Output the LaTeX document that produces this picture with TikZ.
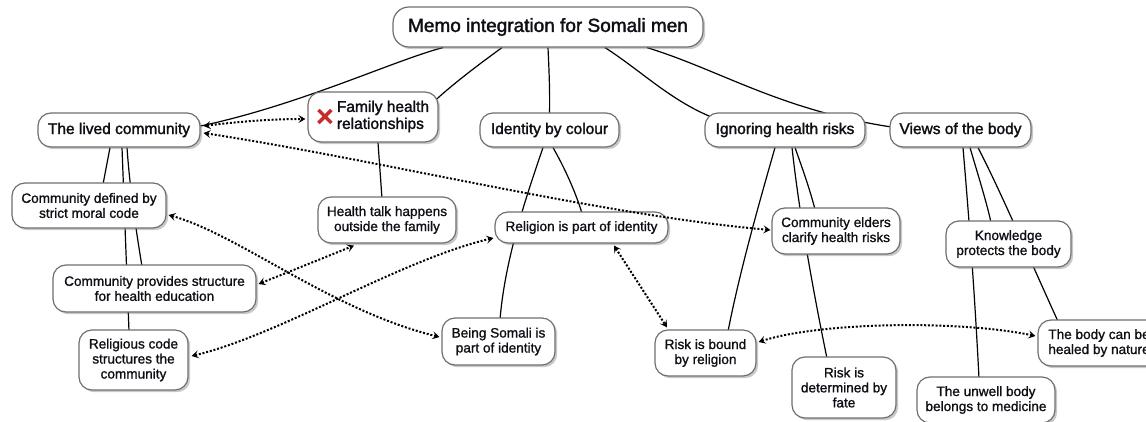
\documentclass[tikz,border=0pt]{standalone}
\usepackage{fontspec}
\setmainfont{Liberation Sans}
\newfontfamily\headfont{Liberation Sans}[FakeBold=1.8]
\newfontfamily\leaffont{Liberation Sans}[FakeBold=1.1]
\usetikzlibrary{arrows.meta,shadows,calc}
\definecolor{boxline}{HTML}{707070}
\definecolor{ink}{HTML}{0E0E14}
\definecolor{xred}{HTML}{C62D2D}
\pgfdeclarelayer{paper}
\pgfdeclarelayer{links}
\pgfsetlayers{paper,links,main}
\tikzset{
  box/.style={draw=boxline, line width=1.2pt, fill=white, rounded corners=13pt,
    text=ink, align=center, inner sep=2pt,
    drop shadow={shadow xshift=2.2pt, shadow yshift=-2.2pt, opacity=0.35, fill=black!60}},
  sized/.style 2 args={minimum width=#1pt, minimum height=#2pt},
  titlebox/.style={box, rounded corners=16pt, font=\headfont\fontsize{19}{22}\selectfont},
  topic/.style={box, font=\headfont\fontsize{15.5}{17}\selectfont},
  leaf/.style={box, font=\leaffont\fontsize{13.6}{15}\selectfont},
  link/.style={line width=1.2pt, draw=black},
  tip/.tip={Stealth[length=7pt,width=8pt,inset=3pt]},
  tie/.style={line width=2pt, dash pattern=on 2pt off 1.8pt, draw=black, tip-tip},
}
\begin{document}
\begin{tikzpicture}[x=1pt,y=-1pt]
\useasboundingbox (0,0) rectangle (1146,422);
\begin{pgfonlayer}{paper}
  \fill[white] (0,0) rectangle (1146,422);
\end{pgfonlayer}

% top level
\node[titlebox, sized={310}{40}] (title) at (548,27) {Memo integration for Somali men};
\node[topic, sized={162}{34}] (lived) at (119,130) {The lived community};
\node[topic, sized={130}{50}] (family) at (373,117)
  {\hspace{20pt}\begin{tabular}{@{}l@{}}Family health\\relationships\end{tabular}};
\node[topic, sized={139}{34}] (identity) at (549.5,130) {Identity by colour};
\node[topic, sized={160}{34}] (ignoring) at (785,130) {Ignoring health risks};
\node[topic, sized={141}{34}] (views) at (960.5,130) {Views of the body};

% red cross on the family node
\draw[xred, line width=3.4pt] ($(family.west)+(11,-7)$) -- ($(family.west)+(24,6)$)
                               ($(family.west)+(11,6)$) -- ($(family.west)+(24,-7)$);

% second level
\node[leaf, sized={154}{45}] (defined) at (89,205.5) {Community defined by\\strict moral code};
\node[leaf, sized={203}{47}] (provides) at (154.5,288.5) {Community provides structure\\for health education};
\node[leaf, sized={109}{60}] (religious) at (133.5,360) {Religious code\\structures the\\community};
\node[leaf, sized={138}{46}] (health) at (387,220) {Health talk happens\\outside the family};
\node[leaf, sized={173}{31}] (religion) at (581.5,227.5) {Religion is part of identity};
\node[leaf, sized={113}{47}] (somali) at (498.5,341.5) {Being Somali is\\part of identity};
\node[leaf, sized={128}{46}] (elders) at (836,231) {Community elders\\clarify health risks};
\node[leaf, sized={101}{46}] (riskbound) at (705.5,353) {Risk is bound\\by religion};
\node[leaf, sized={104}{61}] (fate) at (844,387.5) {Risk is\\determined by\\fate};
\node[leaf, sized={125}{46}] (knowledge) at (1008.5,244) {Knowledge\\protects the body};
\node[leaf, sized={122}{46}] (healed) at (1099,343) {The body can be\\healed by nature};
\node[leaf, sized={138}{46}] (unwell) at (986,400) {The unwell body\\belongs to medicine};

% hierarchy links, kept under the boxes
\begin{pgfonlayer}{links}
  \draw[link] ($(title.south)+(-105,0)$) .. controls (395,60) and (300,105) .. ($(lived.east)+(0,-4)$);
  \draw[link] ($(title.south)+(-46,0)$) .. controls (485,60) and (455,82) .. ($(family.east)+(-4,-16)$);
  \draw[link] (title.south) .. controls (549,70) and (550,90) .. ($(identity.north)+(0,2)$);
  \draw[link] ($(title.south)+(57,0)$) .. controls (640,70) and (670,100) .. ($(ignoring.west)+(7,-13)$);
  \draw[link] ($(title.south)+(99,0)$) .. controls (720,70) and (780,110) .. ($(views.west)+(2,-3)$);

  \draw[link] ($(lived.south)+(-9,0)$) -- ($(defined.north)+(14,2)$);
  \draw[link] ($(lived.south)+(8,0)$) .. controls (130,190) and (136,230) .. ($(provides.north)+(-12.5,2)$);
  \draw[link] ($(lived.south)+(3,0)$) -- ($(religious.north)+(-4.5,2)$);

  \draw[link] ($(family.south)+(5,0)$) -- ($(health.north)+(-5,2)$);

  \draw[link] ($(identity.south)+(-6.5,0)$) .. controls (525,200) and (505,260) .. ($(somali.north)+(1.5,2)$);
  \draw[link] ($(identity.south)+(3.5,0)$) .. controls (563,165) and (575,190) .. ($(religion.north)+(0.5,2)$);

  \draw[link] ($(ignoring.south)+(-10,0)$) .. controls (760,200) and (740,270) .. ($(riskbound.north)+(22.5,2)$);
  \draw[link] ($(ignoring.south)+(10,0)$) .. controls (803,170) and (810,190) .. ($(elders.north)+(-21,2)$);
  \draw[link] ($(ignoring.south)+(7,0)$) .. controls (800,220) and (815,300) .. ($(fate.north)+(-17,2)$);

  \draw[link] ($(views.south)+(9.5,0)$) .. controls (978,175) and (986,200) .. ($(knowledge.north)+(-17.5,2)$);
  \draw[link] ($(views.south)+(2.5,0)$) .. controls (970,230) and (975,300) .. ($(unwell.north)+(-7,2)$);
  \draw[link] ($(views.south)+(17.5,0)$) .. controls (1000,190) and (1030,260) .. ($(healed.north)+(-41,2)$);
\end{pgfonlayer}

% dotted two-way relations
\draw[tie] ($(lived.east)+(3,-4)$) .. controls (235,122) and (270,119) .. ($(family.west)+(-2,2)$);
\draw[tie] ($(lived.east)+(3,3)$) .. controls (380,160) and (600,215) .. ($(elders.west)+(-1,-1)$);
\draw[tie] ($(defined.east)+(2,9.5)$) .. controls (240,235) and (330,310) .. ($(somali.west)+(-2,-4.5)$);
\draw[tie] ($(provides.east)+(2,-4.5)$) -- ($(health.south)+(-33,2)$);
\draw[tie] ($(religious.east)+(3,-4)$) .. controls (280,335) and (400,260) .. ($(religion.west)+(-1,10.5)$);
\draw[tie] ($(religion.south)+(32.5,2)$) -- ($(riskbound.north)+(-38.5,-2)$);
\draw[tie] ($(riskbound.east)+(2,-11)$) .. controls (820,322) and (960,320) .. ($(healed.west)+(-2,-7)$);
\end{tikzpicture}
\end{document}
